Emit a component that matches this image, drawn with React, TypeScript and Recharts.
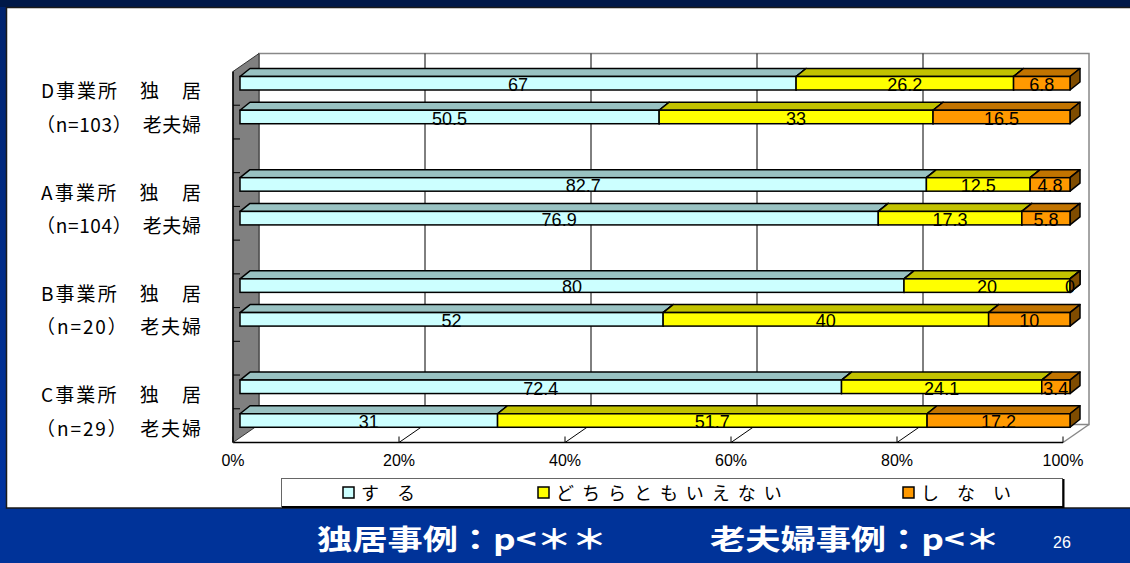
import React from 'react';
import { BarChart, Bar, XAxis, YAxis, LabelList } from 'recharts';

// values (raw %, bars are normalised to 100%)
const categories = [
  'D事業所　独　居', '（n=103）　老夫婦', '',
  'A事業所　独　居', '（n=104）　老夫婦', '',
  'B事業所　独　居', '（n=20）　老夫婦', '',
  'C事業所　独　居', '（n=29）　老夫婦',
];
const suru = [67, 50.5, null, 82.7, 76.9, null, 80, 52, null, 72.4, 31];
const dochira = [26.2, 33, null, 12.5, 17.3, null, 20, 40, null, 24.1, 51.7];
const shinai = [6.8, 16.5, null, 4.8, 5.8, null, 0, 10, null, 3.4, 17.2];
const seriesNames = ['す　る', 'どちらともいえない', 'し　な　い'];
const xTicks = [0, 0.2, 0.4, 0.6, 0.8, 1];
const xTickLabels = ['0%', '20%', '40%', '60%', '80%', '100%'];
const footerLeft = '独居事例：p<＊＊';
const footerRight = '老夫婦事例：p<＊';
const pageNo = '26';

const rows = categories.map((name, i) => ({
  name,
  suru: suru[i],
  dochira: dochira[i],
  shinai: shinai[i],
}));

const series = [
  { key: 'suru', name: seriesNames[0], front: '#ccffff', top: '#99c2c2', side: '#669999' },
  { key: 'dochira', name: seriesNames[1], front: '#ffff00', top: '#c2c200', side: '#808000' },
  { key: 'shinai', name: seriesNames[2], front: '#ff9900', top: '#c27400', side: '#7f4c00' },
];

// layout
const W = 1130;
const H = 563;
const PLOT_L = 240;
const PLOT_T = 66.5;
const PLOT_W = 830;
const PLOT_H = 371;
const Y_AXIS_W = 200;
const X_AXIS_H = 30;
const FRONT = { dx: -7, dy: 5 };
const BACK = { dx: 19, dy: -13 };
const DX = 10;
const DY = 8;
const LEGEND_X = [343, 538, 903];
const LEGEND_SPACING = [0, 8, 0];
const CJK = '"Noto Sans CJK JP", "Noto Sans", sans-serif';
const LATIN = '"Liberation Sans", Arial, sans-serif';

const makeShape = (s: any) => (props: any) => {
  const { x, y, width, height, payload } = props;
  if (!payload || payload[s.key] == null) return null;
  const x2 = x + width;
  const y2 = y + height;
  return (
    <g>
      <polygon
        points={`${x},${y} ${x + DX},${y - DY} ${x2 + DX},${y - DY} ${x2},${y}`}
        fill={s.top}
        stroke="#000"
        strokeWidth={1.5}
        strokeLinejoin="round"
      />
      <polygon
        points={`${x2},${y} ${x2 + DX},${y - DY} ${x2 + DX},${y2 - DY} ${x2},${y2}`}
        fill={s.side}
        stroke="#000"
        strokeWidth={1.5}
        strokeLinejoin="round"
      />
      <rect x={x} y={y} width={width} height={height} fill={s.front} stroke="#000" strokeWidth={1.5} />
    </g>
  );
};

const renderValue = (props: any) => {
  const { x, y, width, height, value } = props;
  if (value == null) return null;
  return (
    <text
      x={x + width / 2}
      y={y + height + 1}
      textAnchor="middle"
      fontSize={18}
      fontFamily={LATIN}
      fill="#000"
    >
      {value}
    </text>
  );
};

const XTick = (props: any) => {
  const { x, payload } = props;
  const label = xTickLabels[xTicks.indexOf(payload.value)];
  return (
    <text x={x + FRONT.dx} y={466} textAnchor="middle" fontSize={16} fontFamily={LATIN} fill="#000">
      {label}
    </text>
  );
};

const YTick = (props: any) => {
  const { y, payload } = props;
  const label = payload.value;
  if (!label) return null;
  const isN = label.startsWith('（');
  return (
    <text
      x={201}
      y={y + 15}
      textAnchor="end"
      textLength={isN ? 165 : 160}
      lengthAdjust="spacing"
      fontSize={19}
      fontFamily={CJK}
      fill="#000"
    >
      {label}
    </text>
  );
};

const Backdrop = () => {
  const fL = PLOT_L + FRONT.dx;
  const fT = PLOT_T + FRONT.dy;
  const fB = PLOT_T + PLOT_H + FRONT.dy;
  const fR = fL + PLOT_W;
  const bL = PLOT_L + BACK.dx;
  const bT = PLOT_T + BACK.dy;
  const bB = PLOT_T + PLOT_H + BACK.dy;
  const bR = bL + PLOT_W;
  const band = PLOT_H / categories.length;

  return (
    <svg width={W} height={H} style={{ position: 'absolute', left: 0, top: 0 }}>
      <defs>
        <linearGradient id="side" x1="0" y1="0" x2="0" y2="1">
          <stop offset="0%" stopColor="#00236e" />
          <stop offset="100%" stopColor="#0033a0" />
        </linearGradient>
      </defs>
      <rect x={0} y={0} width={W} height={H} fill="#003399" />
      <rect x={0} y={0} width={W} height={7} fill="#001848" />
      <rect x={0} y={7} width={6} height={501} fill="url(#side)" />
      <rect x={6.5} y={7.5} width={W} height={500.5} fill="#fff" stroke="#1a1a1a" strokeWidth={1.5} />

      {/* floor */}
      <polygon points={`${fL},${fB} ${fR},${fB} ${bR},${bB} ${bL},${bB}`} fill="#fff" />
      <line x1={fR} y1={fB} x2={bR} y2={bB} stroke="#888" strokeWidth={1.5} />
      {/* back wall */}
      <rect x={bL} y={bT} width={PLOT_W} height={bB - bT} fill="#fff" stroke="#888" strokeWidth={1.5} />
      {xTicks
        .filter((t) => t > 0 && t < 1)
        .map((t) => (
          <g key={t}>
            <line x1={bL + t * PLOT_W} y1={bT} x2={bL + t * PLOT_W} y2={bB} stroke="#000" strokeWidth={1} />
            <line x1={fL + t * PLOT_W} y1={fB} x2={bL + t * PLOT_W} y2={bB} stroke="#000" strokeWidth={1} />
          </g>
        ))}
      <line x1={fL} y1={fB} x2={fR} y2={fB} stroke="#000" strokeWidth={1.5} />
      {xTicks.map((t) => (
        <line key={t} x1={fL + t * PLOT_W} y1={fB - 6} x2={fL + t * PLOT_W} y2={fB} stroke="#000" strokeWidth={1} />
      ))}
      {/* left wall */}
      <polygon
        points={`${fL},${fT} ${bL},${bT} ${bL},${bB} ${fL},${fB}`}
        fill="#808080"
        stroke="#333"
        strokeWidth={1}
      />
      <line x1={fL} y1={fT} x2={fL} y2={fB} stroke="#000" strokeWidth={1.5} />
      {categories.slice(1).map((_, k) => (
        <line
          key={k}
          x1={fL}
          y1={fT + (k + 1) * band}
          x2={fL + 7}
          y2={fT + (k + 1) * band}
          stroke="#000"
          strokeWidth={1}
        />
      ))}

      {/* legend */}
      <rect x={281.5} y={478.5} width={781} height={28} fill="#fff" stroke="#666" strokeWidth={1} />
      <line x1={282} y1={507} x2={1064} y2={507} stroke="#000" strokeWidth={2} />
      <line x1={1063.5} y1={479} x2={1063.5} y2={508} stroke="#000" strokeWidth={2} />
      {series.map((s, i) => (
        <g key={s.key}>
          <rect x={LEGEND_X[i]} y={487} width={11} height={11} fill={s.front} stroke="#000" strokeWidth={1.5} />
          <text
            x={LEGEND_X[i] + 18}
            y={500}
            fontSize={18}
            fontFamily={CJK}
            letterSpacing={LEGEND_SPACING[i]}
            fill="#000"
          >
            {s.name}
          </text>
        </g>
      ))}

      {/* footer */}
      <text
        x={317}
        y={550}
        fontSize={28}
        fontWeight="bold"
        fontFamily={CJK}
        fill="#fff"
        textLength={290}
        lengthAdjust="spacingAndGlyphs"
      >
        {footerLeft}
      </text>
      <text
        x={710}
        y={550}
        fontSize={28}
        fontWeight="bold"
        fontFamily={CJK}
        fill="#fff"
        textLength={290}
        lengthAdjust="spacingAndGlyphs"
      >
        {footerRight}
      </text>
      <text x={1053} y={548} fontSize={16} fontFamily={LATIN} fill="#fff">
        {pageNo}
      </text>
    </svg>
  );
};

export default function App() {
  return (
    <div style={{ position: 'absolute', left: 0, top: 0, width: W, height: H, overflow: 'hidden' }}>
      <Backdrop />
      <div style={{ position: 'absolute', left: 0, top: 0 }}>
        <BarChart
          width={W}
          height={H}
          layout="vertical"
          data={rows}
          stackOffset="expand"
          barSize={13.5}
          margin={{
            top: PLOT_T,
            left: PLOT_L - Y_AXIS_W,
            right: W - PLOT_L - PLOT_W,
            bottom: H - PLOT_T - PLOT_H - X_AXIS_H,
          }}
        >
          <XAxis
            type="number"
            domain={[0, 1]}
            ticks={xTicks}
            tick={<XTick />}
            axisLine={false}
            tickLine={false}
            height={X_AXIS_H}
            interval={0}
          />
          <YAxis
            type="category"
            dataKey="name"
            width={Y_AXIS_W}
            tick={<YTick />}
            axisLine={false}
            tickLine={false}
            interval={0}
          />
          {series.map((s) => (
            <Bar
              key={s.key}
              dataKey={s.key}
              name={s.name}
              stackId="a"
              fill={s.front}
              shape={makeShape(s)}
              isAnimationActive={false}
            >
              <LabelList dataKey={s.key} content={renderValue} />
            </Bar>
          ))}
        </BarChart>
      </div>
    </div>
  );
}
